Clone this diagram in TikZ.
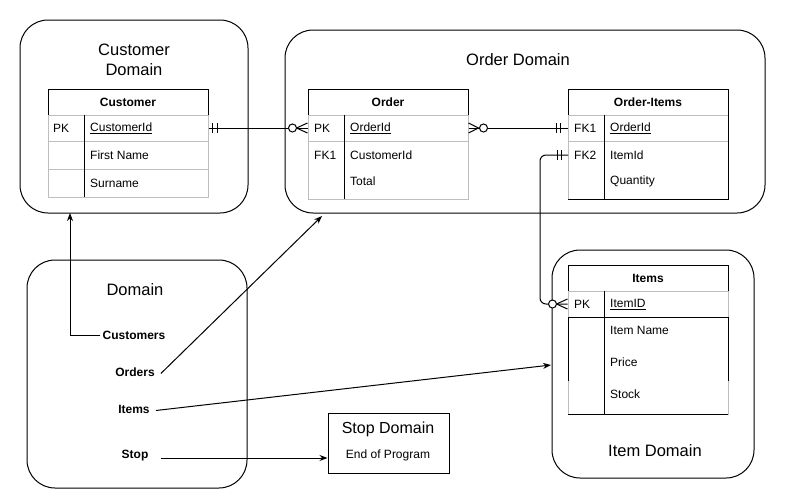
\documentclass[tikz,border=0pt]{standalone}
\usepackage{fontspec}
\setmainfont{Liberation Sans}
\usetikzlibrary{arrows.meta,calc}
\definecolor{rowgray}{RGB}{190,190,190}
\tikzset{
 dom/.style={draw, line width=1pt, rounded corners=28pt, inner sep=0pt},
 ttl/.style={font=\fontsize{16.5}{20}\selectfont, align=center, inner sep=0pt},
 hdr/.style={draw, line width=1pt, minimum width=160pt, minimum height=26pt, inner sep=0pt, font=\fontsize{12}{14}\selectfont\bfseries},
 rowbox/.style={draw=rowgray, line width=1pt, minimum width=160pt, inner sep=0pt},
 cell/.style={anchor=west, inner sep=0pt, font=\fontsize{12}{14}\selectfont},
 menu/.style={inner sep=0pt, font=\fontsize{12}{14}\selectfont\bfseries},
 conn/.style={line width=1pt},
 arr/.style={line width=1pt, -{Stealth[length=8pt,width=6pt]}},
 ring/.style={circle, draw, fill=white, line width=1pt, minimum size=8pt, inner sep=0pt},
}
\begin{document}
\begin{tikzpicture}[x=1pt,y=-1pt]
\useasboundingbox (0,0) rectangle (785,501);
% domains
\node[dom, minimum width=228pt, minimum height=193pt] (cdom) at (134,116.5) {};
\node[ttl] (cdomt) at (134,60) {Customer\\Domain};
\node[dom, minimum width=480pt, minimum height=183pt] (odom) at (525,121.5) {};
\node[ttl] (odomt) at (518,60) {Order Domain};
\node[dom, minimum width=220pt, minimum height=228pt] (mdom) at (137,374) {};
\node[ttl] (mdomt) at (135,290) {Domain};
\node[dom, minimum width=202pt, minimum height=228pt] (idom) at (653,364) {};
\node[ttl] (idomt) at (655,451) {Item Domain};
\node[draw, line width=1pt, minimum width=121pt, minimum height=60pt, inner sep=0pt] (sdom) at (388.5,443) {};
\node[ttl, font=\fontsize{16}{19}\selectfont] (sdomt) at (388,429) {Stop Domain};
\node[cell, anchor=center] (sdoms) at (388,455.5) {End of Program};

% Customer table
\node[hdr] (ch) at (128,102) {Customer};
\node[rowbox, minimum height=26pt] (c1) at (128,128) {};
\node[rowbox, minimum height=28pt] (c2) at (128,155) {};
\node[rowbox, minimum height=28pt] (c3) at (128,183) {};
\draw[line width=1pt] (84,115) -- (84,197);
\node[cell] (c1k) at (53,128.5) {PK};
\node[cell] (c1f) at (90,128.5) {\underline{CustomerId}};
\node[cell] (c2f) at (90,155.5) {First Name};
\node[cell] (c3f) at (90,183.5) {Surname};

% Order table
\node[hdr] (oh) at (388,102) {Order};
\node[rowbox, minimum height=26pt] (o1) at (388,128) {};
\node[rowbox, minimum height=58pt] (o2) at (388,170) {};
\draw[line width=1pt] (344,115) -- (344,199);
\node[cell] (o1k) at (314,128.5) {PK};
\node[cell] (o1f) at (350,128.5) {\underline{OrderId}};
\node[cell] (o2k) at (314,155.5) {FK1};
\node[cell] (o2f) at (350,155.5) {CustomerId};
\node[cell] (o3f) at (350,181.5) {Total};

% Order-Items table
\node[hdr] (qh) at (648,102) {Order-Items};
\node[rowbox, minimum height=26pt] (q1) at (648,128) {};
\node[rowbox, minimum height=58pt] (q2) at (648,170) {};
\draw[line width=1pt] (604,115) -- (604,199);
\draw[line width=1pt] (728,115) -- (728,199) -- (568,199);
\node[cell] (q1k) at (574,128.5) {FK1};
\node[cell] (q1f) at (610,128.5) {\underline{OrderId}};
\node[cell] (q2k) at (574,155.5) {FK2};
\node[cell] (q2f) at (610,155.5) {ItemId};
\node[cell] (q3f) at (610,181.5) {Quantity};

% Items table
\node[hdr] (ih) at (648,278) {Items};
\node[rowbox, minimum height=26pt] (i1) at (648,304) {};
\node[rowbox, minimum height=97pt] (i2) at (648,365.5) {};
\draw[line width=1pt] (568,381) -- (568,317) -- (728,317) -- (728,381);
\draw[line width=1pt] (604,291) -- (604,414);
\draw[line width=1pt] (568,414) -- (728,414);
\node[cell] (i1k) at (574,304.5) {PK};
\node[cell] (i1f) at (610,304.5) {\underline{ItemID}};
\node[cell] (i2f) at (610,330.5) {Item Name};
\node[cell] (i3f) at (610,362.5) {Price};
\node[cell] (i4f) at (610,394.5) {Stock};

% menu
\node[menu] (mc) at (134,335.5) {Customers};
\node[menu] (mo) at (135,372.5) {Orders};
\node[menu] (mi) at (134,409.5) {Items};
\node[menu] (ms) at (135,455.5) {Stop};

% menu arrows
\coordinate (ca) at (70,213);
\draw[arr] ([xshift=-2pt]mc.west) -| (ca);
\coordinate (oa) at (322,216);
\draw[arr] ([xshift=6pt,yshift=-1pt]mo.east) -- (oa);
\coordinate (ia) at (551,365);
\draw[arr] ([xshift=6pt,yshift=-1pt]mi.east) -- (ia);
\coordinate (ss) at (161,458);
\draw[arr] (ss) -- (ss -| sdom.west);

% ER: Customer -- Order
\draw[conn] (c1.east) -- (o1.west);
\draw[conn] ($(c1.east)+(4,-5)$) -- ++(0,10);
\draw[conn] ($(c1.east)+(9,-5)$) -- ++(0,10);
\draw[conn] ($(o1.west)+(0,-5)$) -- ($(o1.west)+(-11,0)$) -- ($(o1.west)+(0,5)$);
\node[ring] (r1) at ($(o1.west)+(-15,0)$) {};

% ER: Order -- Order-Items
\draw[conn] (o1.east) -- (q1.west);
\draw[conn] ($(o1.east)+(0,-5)$) -- ($(o1.east)+(10,0)$) -- ($(o1.east)+(0,5)$);
\node[ring] (r2) at ($(o1.east)+(15,0)$) {};
\draw[conn] ($(q1.west)+(-11,-5)$) -- ++(0,10);
\draw[conn] ($(q1.west)+(-7,-5)$) -- ++(0,10);

% ER: Order-Items FK2 -- Items
\coordinate (q2w) at (568,155);
\draw[conn, rounded corners=6pt] (q2w) -- (540,155) -- (540,304) -- (i1.west);
\draw[conn] ($(q2w)+(-11,-5)$) -- ++(0,10);
\draw[conn] ($(q2w)+(-7,-5)$) -- ++(0,10);
\draw[conn] ($(i1.west)+(0,-5)$) -- ($(i1.west)+(-11,0)$) -- ($(i1.west)+(0,5)$);
\node[ring] (r3) at ($(i1.west)+(-15,0)$) {};
\end{tikzpicture}
\end{document}
